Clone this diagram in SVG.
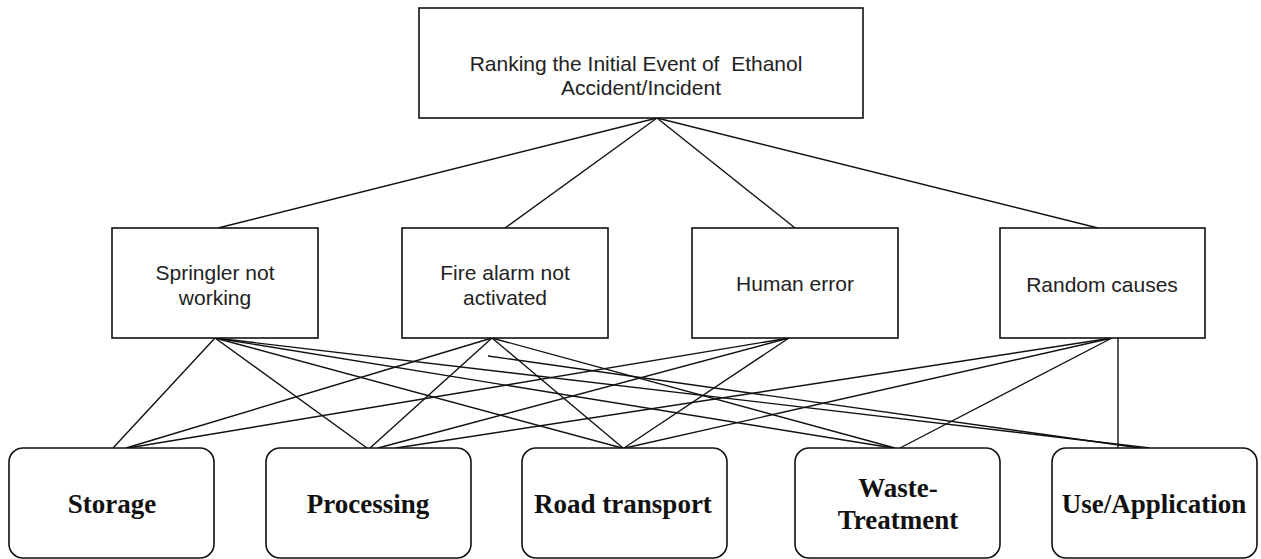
<svg xmlns="http://www.w3.org/2000/svg" width="1261" height="559" viewBox="0 0 1261 559">
<style>
.box{fill:#fff;stroke:#111;stroke-width:1.6}
.rbox{fill:#fff;stroke:#111;stroke-width:1.6}
.t{font-family:"Liberation Sans",Arial,sans-serif;font-size:21px;fill:#222;text-anchor:middle;white-space:pre}
.b{font-family:"Liberation Serif","Times New Roman",serif;font-size:27px;font-weight:bold;fill:#111;text-anchor:middle}
.c line{stroke:#111;stroke-width:1.4}
</style>
<rect width="1261" height="559" fill="#fff"/>
<g class="c" id="connectors">
<line x1="657" y1="118" x2="218" y2="228"/>
<line x1="657" y1="118" x2="505" y2="228"/>
<line x1="657" y1="118" x2="795" y2="228"/>
<line x1="657" y1="118" x2="1098" y2="228"/>
<line x1="215" y1="338" x2="113" y2="448"/>
<line x1="215" y1="338" x2="367" y2="448"/>
<line x1="215" y1="338" x2="622" y2="448"/>
<line x1="215" y1="338" x2="893" y2="448"/>
<line x1="215" y1="338" x2="1150" y2="448"/>
<line x1="492" y1="338" x2="126" y2="448"/>
<line x1="492" y1="338" x2="370" y2="448"/>
<line x1="492" y1="338" x2="623" y2="448"/>
<line x1="492" y1="338" x2="895" y2="448"/>
<line x1="488" y1="356" x2="1140" y2="448"/>
<line x1="789" y1="338" x2="128" y2="448"/>
<line x1="789" y1="338" x2="378" y2="448"/>
<line x1="789" y1="338" x2="624" y2="448"/>
<line x1="1112" y1="338" x2="396" y2="448"/>
<line x1="1112" y1="338" x2="625" y2="448"/>
<line x1="1112" y1="338" x2="900" y2="448"/>
<line x1="1118" y1="338" x2="1118" y2="448"/>
</g>
<g id="top">
<rect class="box" x="419" y="8" width="444" height="110"/>
<text class="t" x="636" y="71">Ranking the Initial Event of  Ethanol</text>
<text class="t" x="641" y="95">Accident/Incident</text>
</g>
<g id="springler">
<rect class="box" x="112" y="228" width="206" height="110"/>
<text class="t" x="215" y="280">Springler not</text>
<text class="t" x="215" y="305">working</text>
</g>
<g id="firealarm">
<rect class="box" x="402" y="228" width="206" height="110"/>
<text class="t" x="505" y="280">Fire alarm not</text>
<text class="t" x="505" y="305">activated</text>
</g>
<g id="human">
<rect class="box" x="692" y="228" width="206" height="110"/>
<text class="t" x="795" y="291">Human error</text>
</g>
<g id="random">
<rect class="box" x="1000" y="228" width="205" height="110"/>
<text class="t" x="1102" y="292">Random causes</text>
</g>
<g id="storage">
<rect class="rbox" x="9" y="448" width="205" height="110" rx="14"/>
<text class="b" x="112" y="513">Storage</text>
</g>
<g id="processing">
<rect class="rbox" x="266" y="448" width="205" height="110" rx="14"/>
<text class="b" x="368" y="513">Processing</text>
</g>
<g id="road">
<rect class="rbox" x="522" y="448" width="205" height="110" rx="14"/>
<text class="b" x="623" y="513">Road transport</text>
</g>
<g id="waste">
<rect class="rbox" x="795" y="448" width="205" height="110" rx="14"/>
<text class="b" x="898" y="497">Waste-</text>
<text class="b" x="898" y="529">Treatment</text>
</g>
<g id="use">
<rect class="rbox" x="1052" y="448" width="205" height="110" rx="14"/>
<text class="b" x="1154" y="513">Use/Application</text>
</g>
</svg>
